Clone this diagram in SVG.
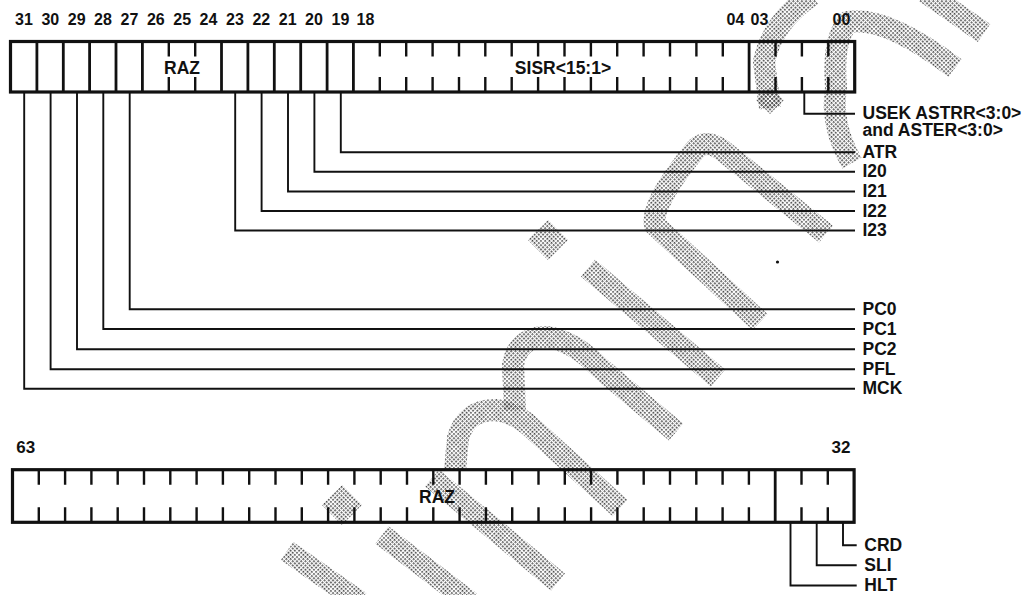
<svg xmlns="http://www.w3.org/2000/svg" width="1026" height="595" viewBox="0 0 1026 595">
<defs>
<pattern id="dots" width="3" height="3" patternUnits="userSpaceOnUse" patternTransform="rotate(45)"><rect width="1.7" height="1.7" fill="#444"/></pattern>
<style>
text{font-family:"Liberation Sans",Arial,Helvetica,sans-serif;font-weight:bold;fill:#111}
.num{font-size:16px;text-anchor:middle}
.num2{font-size:17px;text-anchor:middle}
.lbl{font-size:17.5px}
.fld{font-size:17.5px;text-anchor:middle}
.box{fill:none;stroke:#111;stroke-width:3.2}
.div{stroke:#111;stroke-width:2.8}
.tick{stroke:#111;stroke-width:2.4}
.con{fill:none;stroke:#111;stroke-width:1.9}
.wm{fill:none;stroke:url(#dots);stroke-width:22}
.wmf{fill:url(#dots)}
</style>
</defs>
<rect width="1026" height="595" fill="#fff"/>

<g id="watermark">
<path class="wm" d="M925,-8 L984,33"/>
<path class="wm" d="M812,-5 Q772,22 764,62 L770,108"/>
<path class="wm" d="M955,68 Q885,15 848,22 Q832,40 836,88 Q830,125 852,163"/>
<path class="wm" d="M826,234 L722,150 Q705,138 695,150 Q650,205 655,225 L760,322"/>
<path class="wm" d="M588,268 L718,378"/>
<path class="wm" d="M515,410 L513,365 Q518,336 548,337 Q575,342 600,368 L676,432"/>
<path class="wm" d="M455,470 L458,438 Q466,410 495,410 Q515,412 532,428 L620,508"/>
<path class="wm" d="M432,478 L558,582"/>
<path class="wm" d="M382,535 L470,602"/>
<path class="wm" d="M287,551 L360,602"/>
<polygon class="wmf" points="342,485 362,505 342,525 322,505"/>
<polygon class="wmf" points="548,220 568,240 548,260 528,240"/>
<polygon class="wmf" points="770,88 784,100 770,114 756,100"/>
</g>

<g id="reg-top">
<rect class="box" x="10.5" y="41.5" width="844.2" height="50.5"/>
<g class="div">
<line x1="36.9" y1="41.5" x2="36.9" y2="92"/>
<line x1="63.3" y1="41.5" x2="63.3" y2="92"/>
<line x1="89.6" y1="41.5" x2="89.6" y2="92"/>
<line x1="116" y1="41.5" x2="116" y2="92"/>
<line x1="142.4" y1="41.5" x2="142.4" y2="92"/>
<line x1="221.5" y1="41.5" x2="221.5" y2="92"/>
<line x1="247.9" y1="41.5" x2="247.9" y2="92"/>
<line x1="274.3" y1="41.5" x2="274.3" y2="92"/>
<line x1="300.7" y1="41.5" x2="300.7" y2="92"/>
<line x1="327.1" y1="41.5" x2="327.1" y2="92"/>
<line x1="353.4" y1="41.5" x2="353.4" y2="92"/>
<line x1="749.1" y1="41.5" x2="749.1" y2="92"/>
</g>
<path class="tick" d="M168.8,41.5v15M168.8,77v15M195.2,41.5v15M195.2,77v15
M379.8,41.5v15M379.8,77v15M406.2,41.5v15M406.2,77v15M432.6,41.5v15M432.6,77v15M459,41.5v15M459,77v15
M485.3,41.5v15M485.3,77v15M511.7,41.5v15M511.7,77v15M538.1,41.5v15M538.1,77v15M564.5,41.5v15M564.5,77v15
M590.9,41.5v15M590.9,77v15M617.2,41.5v15M617.2,77v15M643.6,41.5v15M643.6,77v15M670,41.5v15M670,77v15
M696.4,41.5v15M696.4,77v15M722.8,41.5v15M722.8,77v15
M775.5,41.5v15M775.5,77v15M801.9,41.5v15M801.9,77v15M828.3,41.5v15M828.3,77v15"/>
<text class="fld" x="182" y="74">RAZ</text>
<text class="fld" x="563" y="74">SISR&lt;15:1&gt;</text>
<g class="num">
<text x="24" y="25">31</text><text x="50.3" y="25">30</text><text x="76.7" y="25">29</text><text x="103" y="25">28</text>
<text x="129.4" y="25">27</text><text x="155.8" y="25">26</text><text x="182.2" y="25">25</text><text x="208.5" y="25">24</text>
<text x="235" y="25">23</text><text x="261.3" y="25">22</text><text x="287.7" y="25">21</text><text x="314" y="25">20</text>
<text x="340.4" y="25">19</text><text x="365.5" y="25">18</text>
<text x="735.5" y="25">04</text><text x="759.5" y="25">03</text><text x="841.5" y="25">00</text>
</g>
</g>

<g id="reg-bottom">
<rect class="box" x="12.5" y="469.7" width="841.6" height="52.6"/>
<line class="div" x1="775.2" y1="469.7" x2="775.2" y2="522.3"/>
<path class="tick" d="M38.8,469.7v15M38.8,507.3v15M65.1,469.7v15M65.1,507.3v15M91.4,469.7v15M91.4,507.3v15M117.7,469.7v15M117.7,507.3v15
M144,469.7v15M144,507.3v15M170.3,469.7v15M170.3,507.3v15M196.6,469.7v15M196.6,507.3v15M222.9,469.7v15M222.9,507.3v15
M249.2,469.7v15M249.2,507.3v15M275.5,469.7v15M275.5,507.3v15M301.8,469.7v15M301.8,507.3v15M328.1,469.7v15M328.1,507.3v15
M354.4,469.7v15M354.4,507.3v15M380.7,469.7v15M380.7,507.3v15M407,469.7v15M407,507.3v15M433.3,469.7v15M433.3,507.3v15
M459.6,469.7v15M459.6,507.3v15M485.9,469.7v15M485.9,507.3v15M512.2,469.7v15M512.2,507.3v15M538.5,469.7v15M538.5,507.3v15
M564.8,469.7v15M564.8,507.3v15M591.1,469.7v15M591.1,507.3v15M617.4,469.7v15M617.4,507.3v15M643.7,469.7v15M643.7,507.3v15
M670,469.7v15M670,507.3v15M696.3,469.7v15M696.3,507.3v15M722.6,469.7v15M722.6,507.3v15M748.9,469.7v15M748.9,507.3v15
M801.5,469.7v15M801.5,507.3v15M827.8,469.7v15M827.8,507.3v15"/>
<text class="fld" x="437" y="502.5">RAZ</text>
<text class="num2" x="25.7" y="453">63</text>
<text class="num2" x="841" y="453">32</text>
</g>

<g id="connectors">
<path class="con" d="M804.3,92V113.7H855"/>
<path class="con" d="M340.8,92V152.3H855"/>
<path class="con" d="M314.4,92V171.8H855"/>
<path class="con" d="M288,92V191.5H855"/>
<path class="con" d="M261.6,92V211H855"/>
<path class="con" d="M235.2,92V230.5H855"/>
<path class="con" d="M129.7,92V309.3H855"/>
<path class="con" d="M103.3,92V329H855"/>
<path class="con" d="M77,92V349.2H855"/>
<path class="con" d="M50.6,92V369.2H855"/>
<path class="con" d="M24.2,92V388.7H855"/>
<path class="con" d="M843,522.3V545.3H856.7"/>
<path class="con" d="M816.7,522.3V565.3H856.7"/>
<path class="con" d="M790.5,522.3V585.5H856.7"/>
</g>

<g id="labels" class="lbl">
<text x="862.5" y="118.5">USEK ASTRR&lt;3:0&gt;</text>
<text x="862.5" y="136">and ASTER&lt;3:0&gt;</text>
<text x="862.5" y="157.8">ATR</text>
<text x="862.5" y="177.3">I20</text>
<text x="862.5" y="197">I21</text>
<text x="862.5" y="216.5">I22</text>
<text x="862.5" y="236">I23</text>
<text x="862.5" y="314.8">PC0</text>
<text x="862.5" y="334.5">PC1</text>
<text x="862.5" y="354.7">PC2</text>
<text x="862.5" y="374.7">PFL</text>
<text x="862.5" y="394.2">MCK</text>
<text x="864.3" y="550.8">CRD</text>
<text x="864.3" y="570.8">SLI</text>
<text x="864.3" y="591">HLT</text>
</g>
<circle cx="777.5" cy="262" r="1.6" fill="#111"/>
</svg>
